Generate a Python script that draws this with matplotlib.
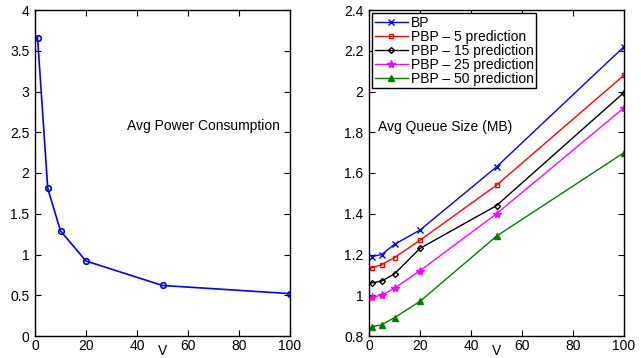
import matplotlib
matplotlib.use("Agg")
import matplotlib.pyplot as plt

plt.rcParams['font.family'] = ['Liberation Sans', 'DejaVu Sans']

V = [1, 5, 10, 20, 50, 100]
power = [3.66, 1.81, 1.29, 0.92, 0.62, 0.52]
bp = [1.19, 1.20, 1.25, 1.32, 1.63, 2.22]
pbp5 = [1.135, 1.15, 1.185, 1.27, 1.54, 2.08]
pbp15 = [1.06, 1.07, 1.105, 1.23, 1.44, 1.995]
pbp25 = [0.99, 1.0, 1.035, 1.12, 1.40, 1.92]
pbp50 = [0.845, 0.855, 0.89, 0.97, 1.29, 1.70]
labels = ['BP', 'PBP \u2013 5 prediction', 'PBP \u2013 15 prediction',
          'PBP \u2013 25 prediction', 'PBP \u2013 50 prediction']

fig = plt.figure(figsize=(6.41, 3.58), dpi=100)
W, H = 641, 358
ax1 = fig.add_axes([35 / W, 1 - 336 / H, 255 / W, 326 / H])
ax2 = fig.add_axes([369 / W, 1 - 336 / H, 255 / W, 326 / H])

def style(ax):
    ax.tick_params(direction='in', top=True, right=True, labelsize=10, length=4)
    ax.tick_params(axis='x', pad=2)
    ax.tick_params(axis='y', pad=4)
    for s in ax.spines.values():
        s.set_linewidth(1.0)
    pos = ax.get_position()
    fig.text((pos.x0 + pos.x1) / 2, 0.0, 'V', fontsize=10, ha='center', va='bottom')

ax1.plot(V, power, color='blue', marker='o', markersize=4, markerfacecolor='none',
         markeredgewidth=1.2, linewidth=1.2)
ax1.set_xlim(0, 100)
ax1.set_ylim(0, 4)
ax1.set_xticks([0, 20, 40, 60, 80, 100])
ax1.set_yticks([0, 0.5, 1, 1.5, 2, 2.5, 3, 3.5, 4])
ax1.set_yticklabels(['0', '0.5', '1', '1.5', '2', '2.5', '3', '3.5', '4'])
ax1.text(36, 2.58, 'Avg Power Consumption', fontsize=10, va='center', ha='left')
style(ax1)

series = [bp, pbp5, pbp15, pbp25, pbp50]
colors = ['blue', 'red', 'black', 'magenta', (0, 0.5, 0)]
markers = ['x', 's', 'D', '*', '^']
msizes = [4, 3.5, 3, 6, 4.5]
for ys, c, m, ms, lab in zip(series, colors, markers, msizes, labels):
    ax2.plot(V, ys, color=c, marker=m, markersize=ms, markerfacecolor='none' if m in ('s', 'D') else c,
             markeredgewidth=1.0, linewidth=1.0, label=lab)
ax2.set_xlim(0, 100)
ax2.set_ylim(0.8, 2.4)
ax2.set_xticks([0, 20, 40, 60, 80, 100])
ax2.set_yticks([0.8, 1, 1.2, 1.4, 1.6, 1.8, 2, 2.2, 2.4])
ax2.set_yticklabels(['0.8', '1', '1.2', '1.4', '1.6', '1.8', '2', '2.2', '2.4'])
ax2.text(3.5, 1.826, 'Avg Queue Size (MB)', fontsize=10, va='center', ha='left')
leg = ax2.legend(loc='upper left', fontsize=10, fancybox=False, framealpha=1, edgecolor='black',
                 borderpad=0.15, labelspacing=0.0, handlelength=2.4, handletextpad=0.2,
                 borderaxespad=0.25)
leg.get_frame().set_linewidth(1.0)
style(ax2)

fig.savefig('out.png', dpi=100)
